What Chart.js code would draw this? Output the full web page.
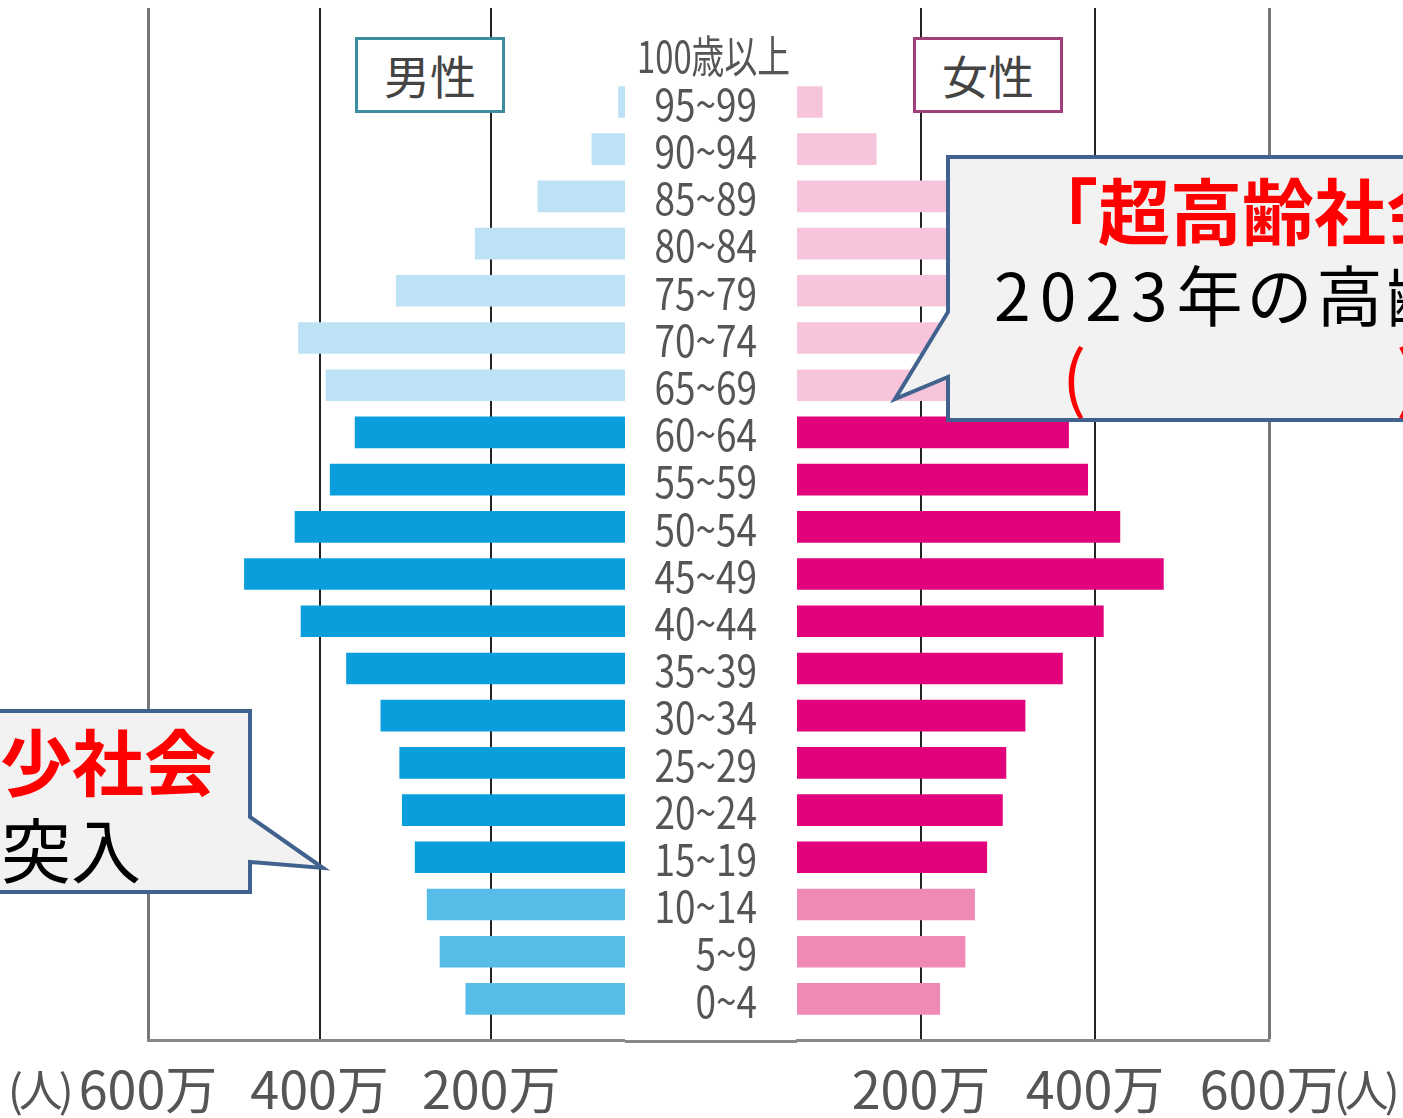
<!DOCTYPE html>
<html lang="ja">
<head>
<meta charset="utf-8">
<title>人口ピラミッド</title>
<script src="https://cdn.jsdelivr.net/npm/chart.js@4/dist/chart.umd.min.js"></script>
<style>
  body { margin: 0; background: #fff; }
  #stage { position: relative; width: 1403px; height: 1118px; overflow: hidden; font-family: "Noto Sans CJK JP", sans-serif; }
  canvas { position: absolute; top: 0; }
  #maleChart { left: 0; }
  #femaleChart { left: 625px; }
  .sexBox { position: absolute; top: 37px; width: 150px; height: 76px; box-sizing: border-box; border: 3px solid; background: #fff;
            font-size: 46px; color: #444; text-align: center; line-height: 68px; }
  #maleBox { left: 355px; border-color: #3d8e9e; }
  #femaleBox { left: 913px; border-color: #a23f78; }
  .unit { position: absolute; top: 1060px; font-size: 44px; color: #555; line-height: 56px; letter-spacing: -4px; }
  #callouts { position: absolute; left: 0; top: 0; }
  .txt { position: absolute; white-space: nowrap; line-height: 1; }
  .red { color: #ff0000; font-weight: bold; }
</style>
</head>
<body>
<div id="stage">
  <canvas id="maleChart" width="625" height="1118"></canvas>
  <canvas id="femaleChart" width="778" height="1118"></canvas>
  <div class="sexBox" id="maleBox">男性</div>
  <div class="sexBox" id="femaleBox">女性</div>
  <div class="unit" style="left:8px">(人)</div>
  <div class="unit" style="left:1334px">(人)</div>

  <svg id="callouts" width="1403" height="1118">
    <polygon points="948,157 1430,157 1430,420 948,420 948,377 895,399 948,312"
             fill="#f2f2f2" stroke="#41618e" stroke-width="4"/>
    <polygon points="-30,711 250,711 250,817 323,868 250,862 250,892 -30,892"
             fill="#f2f2f2" stroke="#41618e" stroke-width="4"/>
  </svg>

  <div class="txt red" style="left:1026px; top:172px; font-size:72px;">「超高齢社会」</div>
  <div class="txt" style="left:994px; top:259px; font-size:66px; letter-spacing:4px;"><span style="letter-spacing:9px">2023</span>年の高齢化率</div>
  <div class="txt" style="left:1062px; top:338px; font-size:72px; color:#ff0000;">(<span style="display:inline-block;width:310px"></span>)</div>

  <div class="txt red" style="right:1187px; top:723px; font-size:72px;">人口減少社会</div>
  <div class="txt" style="right:1262px; top:813px; font-size:70px;">」に突入</div>
</div>

<script>
// 年齢階級（上から）
const ageLabels = ['100歳以上', '95~99', '90~94', '85~89', '80~84', '75~79', '70~74', '65~69',
  '60~64', '55~59', '50~54', '45~49', '40~44', '35~39', '30~34', '25~29', '20~24', '15~19',
  '10~14', '5~9', '0~4'];
// 人口（万人）
const maleValues   = [1, 52, 83, 146, 219, 311, 425, 393, 359, 388, 429, 488, 422, 369, 329, 307, 304, 289, 275, 260, 230];
const femaleValues = [8, 87, 149, 255, 295, 375, 480, 420, 370, 392, 429, 479, 410, 363, 320, 298, 294, 276, 262, 251, 222];
// old = 65歳以上, work = 15〜64歳, child = 0〜14歳
const ageGroup = ['old', 'old', 'old', 'old', 'old', 'old', 'old', 'old',
  'work', 'work', 'work', 'work', 'work', 'work', 'work', 'work', 'work', 'work',
  'child', 'child', 'child'];
const xTicks = [200, 400, 600];

const maleColors   = { old: '#bde2f6', work: '#0a9edc', child: '#56bde9' };
const femaleColors = { old: '#f7c5db', work: '#e2037c', child: '#ef89b6' };

const font = '"Noto Sans CJK JP", sans-serif';

function xScale(min, reverse) {
  return {
    type: 'linear',
    min: min,
    max: 600,
    reverse: reverse,
    afterBuildTicks: s => { s.ticks = xTicks.map(v => ({ value: v })); },
    afterFit: s => { s.height = 78; },
    grid: {
      drawTicks: false,
      color: c => (c.tick && c.tick.value === 600) ? '#777' : '#222',
      lineWidth: c => (c.tick && c.tick.value === 600) ? 3 : 2
    },
    border: { display: true, color: '#888', width: 3 },
    ticks: {
      padding: 18,
      color: '#555',
      font: { family: font, size: 52 },
      callback: v => v + '万'
    }
  };
}

const yRange = { type: 'linear', reverse: true, offset: false, min: -0.99, max: 20.87 };

// 中央の年齢ラベル（横に詰めて描く）
const ageLabelPlugin = {
  id: 'ageLabels',
  afterDraw(chart) {
    const ctx = chart.ctx;
    const y = chart.scales.y;
    const area = chart.chartArea;
    ctx.save();
    ctx.font = '44px ' + font;
    ctx.fillStyle = '#555';
    ctx.textAlign = 'left';
    ctx.textBaseline = 'middle';
    ageLabels.forEach((label, i) => {
      const w = Math.min(ctx.measureText(label).width * 0.84, 153);
      const left = Math.max(y.left + 12, y.right - 40 - w);
      ctx.fillText(label, left, y.getPixelForValue(i) + 2, w);
    });
    // 下の枠線を中央部分にも
    ctx.strokeStyle = '#888';
    ctx.lineWidth = 3;
    ctx.beginPath();
    ctx.moveTo(0, area.bottom + 1.5);
    ctx.lineTo(area.left, area.bottom + 1.5);
    ctx.stroke();
    ctx.restore();
  }
};

new Chart(document.getElementById('maleChart'), {
  type: 'bar',
  data: {
    datasets: [{
      data: maleValues.map((v, i) => ({ x: v, y: i })),
      backgroundColor: ageGroup.map(g => maleColors[g]),
      barPercentage: 0.77,
      categoryPercentage: 1,
      clip: 0
    }]
  },
  options: {
    indexAxis: 'y',
    responsive: false,
    animation: false,
    layout: { padding: { left: 148, top: 8, right: 0, bottom: 0 } },
    plugins: { legend: { display: false }, tooltip: { enabled: false } },
    scales: {
      x: xScale(44, true),
      y: Object.assign({ display: false }, yRange)
    }
  }
});

new Chart(document.getElementById('femaleChart'), {
  type: 'bar',
  data: {
    datasets: [{
      data: femaleValues.map((v, i) => ({ x: v, y: i })),
      backgroundColor: ageGroup.map(g => femaleColors[g]),
      barPercentage: 0.77,
      categoryPercentage: 1,
      clip: 0
    }]
  },
  options: {
    indexAxis: 'y',
    responsive: false,
    animation: false,
    layout: { padding: { left: 0, top: 8, right: 134, bottom: 0 } },
    plugins: { legend: { display: false }, tooltip: { enabled: false } },
    scales: {
      x: xScale(57.5, false),
      y: Object.assign({
        position: 'left',
        grid: { display: false },
        border: { display: false },
        ticks: { display: false },
        afterFit: s => { s.width = 172; }
      }, yRange)
    }
  },
  plugins: [ageLabelPlugin]
});
</script>
</body>
</html>
